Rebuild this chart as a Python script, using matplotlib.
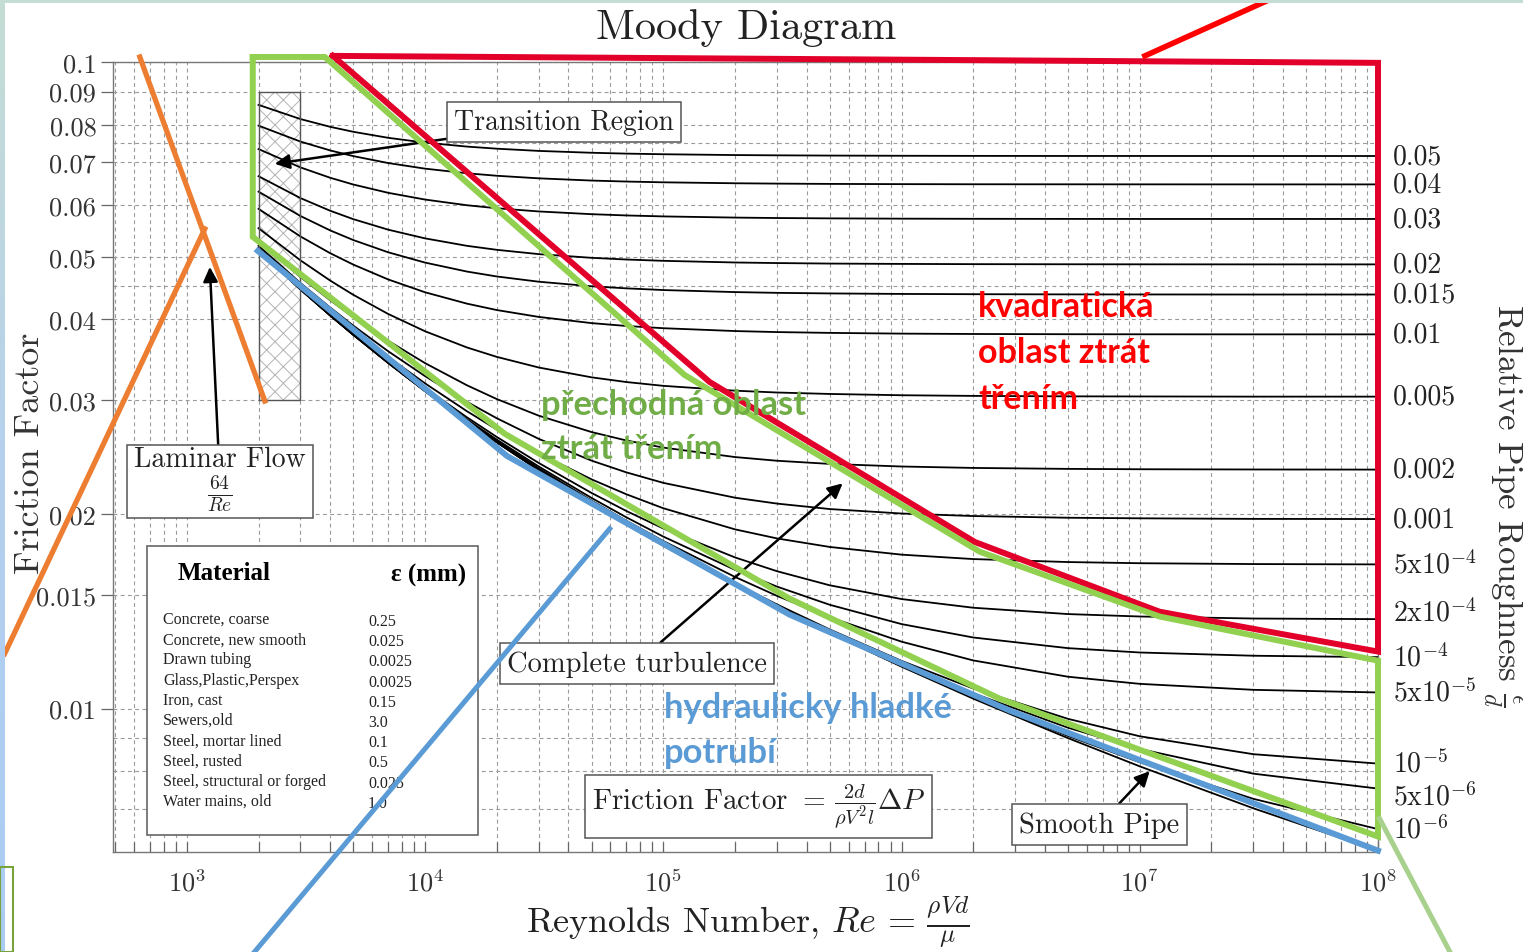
import numpy as np
import matplotlib
matplotlib.use('Agg')
import matplotlib.pyplot as plt
from matplotlib.patches import Rectangle
from matplotlib.colors import LinearSegmentedColormap
import matplotlib.transforms as mtransforms
from matplotlib.ticker import FixedLocator, NullFormatter, LogLocator

W, H = 1523, 953
plt.rcParams['mathtext.fontset'] = 'cm'
plt.rcParams['axes.unicode_minus'] = False
plt.rcParams['axes.formatter.use_mathtext'] = True
plt.rcParams['font.family'] = 'cmr10'
plt.rcParams['hatch.linewidth'] = 0.7

# ---------------- data ----------------
re_pts = [2e3, 3e3, 4e3, 5e3, 7e3, 1e4, 1.5e4, 2e4, 3e4, 5e4, 7e4, 1e5, 2e5, 3e5,
          5e5, 1e6, 2e6, 5e6, 1e7, 3e7, 1e8]

rough_labels = ['0.05', '0.04', '0.03', '0.02', '0.015', '0.01', '0.005', '0.002', '0.001',
                r'5x10$^{-4}$', r'2x10$^{-4}$', r'$10^{-4}$', r'5x10$^{-5}$',
                r'$10^{-5}$', r'5x10$^{-6}$', r'$10^{-6}$']

f_005 = [0.08584, 0.08161, 0.07938, 0.07799, 0.07634, 0.07504, 0.07399, 0.07344, 0.07286, 0.07238, 0.07216,
         0.07200, 0.07179, 0.07172, 0.07166, 0.07161, 0.07158, 0.07156, 0.07156, 0.07155, 0.07155]
f_004 = [0.07972, 0.07532, 0.07298, 0.07152, 0.06978, 0.06840, 0.06728, 0.06669, 0.06608, 0.06556, 0.06533,
         0.06515, 0.06493, 0.06485, 0.06478, 0.06473, 0.06470, 0.06469, 0.06468, 0.06467, 0.06467]
f_003 = [0.07334, 0.06870, 0.06621, 0.06464, 0.06276, 0.06127, 0.06004, 0.05940, 0.05873, 0.05816, 0.05790,
         0.05770, 0.05746, 0.05737, 0.05730, 0.05724, 0.05721, 0.05719, 0.05718, 0.05718, 0.05718]
f_002 = [0.06658, 0.06159, 0.05887, 0.05714, 0.05504, 0.05336, 0.05196, 0.05123, 0.05045, 0.04979, 0.04949,
         0.04926, 0.04897, 0.04887, 0.04878, 0.04872, 0.04868, 0.04866, 0.04865, 0.04864, 0.04864]
f_0015 = [0.06302, 0.05778, 0.05489, 0.05304, 0.05078, 0.04895, 0.04741, 0.04659, 0.04573, 0.04499, 0.04466,
          0.04439, 0.04407, 0.04395, 0.04386, 0.04378, 0.04374, 0.04371, 0.04370, 0.04369, 0.04369]
f_001 = [0.05928, 0.05372, 0.05061, 0.04860, 0.04610, 0.04404, 0.04229, 0.04134, 0.04034, 0.03946, 0.03906,
         0.03875, 0.03836, 0.03822, 0.03811, 0.03801, 0.03796, 0.03793, 0.03792, 0.03791, 0.03791]
f_0005 = [0.05533, 0.04934, 0.04591, 0.04364, 0.04077, 0.03833, 0.03618, 0.03499, 0.03369, 0.03253, 0.03199,
          0.03156, 0.03102, 0.03082, 0.03066, 0.03052, 0.03045, 0.03040, 0.03039, 0.03037, 0.03037]
f_0002 = [0.05283, 0.04650, 0.04280, 0.04030, 0.03706, 0.03422, 0.03162, 0.03011, 0.02838, 0.02677, 0.02598,
          0.02533, 0.02449, 0.02417, 0.02390, 0.02368, 0.02356, 0.02348, 0.02345, 0.02343, 0.02342]
f_0001 = [0.05197, 0.04551, 0.04170, 0.03910, 0.03570, 0.03267, 0.02981, 0.02812, 0.02613, 0.02418, 0.02319,
          0.02234, 0.02119, 0.02075, 0.02035, 0.02003, 0.01985, 0.01973, 0.01969, 0.01965, 0.01964]
f_5e4 = [0.05153, 0.04500, 0.04113, 0.03848, 0.03499, 0.03184, 0.02883, 0.02702, 0.02483, 0.02262, 0.02145,
         0.02041, 0.01893, 0.01833, 0.01778, 0.01730, 0.01703, 0.01685, 0.01678, 0.01673, 0.01671]
f_2e4 = [0.05127, 0.04470, 0.04078, 0.03810, 0.03455, 0.03132, 0.02821, 0.02631, 0.02398, 0.02155, 0.02021,
         0.01899, 0.01713, 0.01631, 0.01551, 0.01477, 0.01432, 0.01400, 0.01388, 0.01378, 0.01375]
f_1e4 = [0.05118, 0.04459, 0.04067, 0.03797, 0.03440, 0.03115, 0.02800, 0.02606, 0.02368, 0.02117, 0.01976,
         0.01845, 0.01639, 0.01544, 0.01447, 0.01351, 0.01288, 0.01240, 0.01221, 0.01207, 0.01201]
f_5e5 = [0.05114, 0.04454, 0.04061, 0.03791, 0.03433, 0.03106, 0.02789, 0.02594, 0.02353, 0.02097, 0.01952,
         0.01816, 0.01598, 0.01494, 0.01384, 0.01269, 0.01187, 0.01120, 0.01092, 0.01069, 0.01059]
f_1e5 = [0.05110, 0.04450, 0.04056, 0.03786, 0.03427, 0.03099, 0.02781, 0.02584, 0.02340, 0.02080, 0.01932,
         0.01792, 0.01562, 0.01449, 0.01325, 0.01185, 0.01074, 0.00964, 0.00906, 0.00850, 0.00822]
f_5e6 = [0.05110, 0.04450, 0.04056, 0.03785, 0.03426, 0.03098, 0.02780, 0.02583, 0.02339, 0.02078, 0.01930,
         0.01789, 0.01558, 0.01443, 0.01317, 0.01173, 0.01056, 0.00934, 0.00866, 0.00793, 0.00752]
f_1e6 = [0.05109, 0.04449, 0.04055, 0.03785, 0.03425, 0.03097, 0.02779, 0.02582, 0.02338, 0.02076, 0.01928,
         0.01787, 0.01554, 0.01439, 0.01311, 0.01163, 0.01040, 0.00907, 0.00826, 0.00725, 0.00651]
f_smooth = [0.05109, 0.04449, 0.04055, 0.03785, 0.03425, 0.03097, 0.02779, 0.02581, 0.02337, 0.02076, 0.01927,
            0.01786, 0.01553, 0.01437, 0.01309, 0.01161, 0.01036, 0.00900, 0.00814, 0.00701, 0.00603]

curves = [f_005, f_004, f_003, f_002, f_0015, f_001, f_0005, f_0002, f_0001,
          f_5e4, f_2e4, f_1e4, f_5e5, f_1e5, f_5e6, f_1e6]

lam_re = [640, 2133]
lam_f = [0.1, 0.03]

transition_re = [2000, 3000]
transition_f = [0.03, 0.09]

# hand-drawn overlay annotations, in (Re, f)
red_re = [4100, 156500, 2.03e6, 1.21e7, 1e8, 1e8, 4100]
red_f = [0.1022, 0.0320, 0.0181, 0.01412, 0.01225, 0.0997, 0.1022]
red_ptr_re = [1.05e7, 3.7e7]
red_ptr_f = [0.1022, 0.126]
green_re = [1892, 3795, 122900, 2.13e6, 1.21e7, 1e8, 1e8, 2.58e6, 339200, 21600, 1892, 1892]
green_f = [0.1018, 0.1018, 0.0328, 0.01748, 0.01388, 0.01186, 0.00634, 0.01036, 0.01479, 0.02661,
           0.05364, 0.1018]
green_ptr_re = [1.015e8, 2.0e8]
green_ptr_f = [0.00676, 0.00421]
blue_re = [1987, 22030, 339200, 2.84e6, 1e8]
blue_f = [0.05103, 0.0246, 0.01397, 0.00993, 0.00603]
blue_ptr_re = [59570, 1930]
blue_ptr_f = [0.01897, 0.00421]
orange_a_re = [635, 2125]
orange_a_f = [0.1018, 0.0299]
orange_b_re = [172, 1190]
orange_b_f = [0.01216, 0.0552]

materials = ['Concrete, coarse', 'Concrete, new smooth', 'Drawn tubing', 'Glass,Plastic,Perspex',
             'Iron, cast', 'Sewers,old', 'Steel, mortar lined', 'Steel, rusted',
             'Steel, structural or forged', 'Water mains, old']
material_eps = ['0.25', '0.025', '0.0025', '0.0025', '0.15', '3.0', '0.1', '0.5', '0.025', '1.0']

yticks = [0.01, 0.015, 0.02, 0.03, 0.04, 0.05, 0.06, 0.07, 0.08, 0.09, 0.1]
yminor = [0.007, 0.008, 0.009, 0.045, 0.075]
xticks = [1e3, 1e4, 1e5, 1e6, 1e7, 1e8]


# ---------------- drawing ----------------
def fx(x):
    return x / W


def fy(y):
    return 1 - y / H


fig = plt.figure(figsize=(W / 100, H / 100), dpi=100)
ax = fig.add_axes([fx(113), fy(853), (1378 - 113) / W, (853 - 63) / H])
ax.set_xscale('log')
ax.set_yscale('log')
ax.set_xlim(490, 1e8)
ax.set_ylim(0.006, 0.1)

ax.yaxis.set_major_locator(FixedLocator(yticks))
ax.yaxis.set_minor_locator(FixedLocator(yminor))
ax.yaxis.set_minor_formatter(NullFormatter())
ax.set_yticklabels([f'{v:g}' for v in yticks])
ax.xaxis.set_major_locator(FixedLocator(xticks))
ax.xaxis.set_minor_locator(LogLocator(base=10, subs=np.arange(2, 10), numticks=30))
ax.xaxis.set_minor_formatter(NullFormatter())
ax.set_xticklabels([r'$10^{%d}$' % round(np.log10(v)) for v in xticks])
ax.tick_params(axis='y', which='major', direction='out', length=9, width=0.9, color='#666',
               labelsize=19, labelcolor='#333', pad=3)
ax.tick_params(axis='y', which='minor', length=0)
ax.tick_params(axis='x', which='both', direction='in', length=7, width=0.9, color='#666',
               labelsize=19, labelcolor='#333', pad=12)
ax.grid(which='both', color='#9a9a9a', ls=(0, (3.5, 3)), lw=0.8)
for s in ax.spines.values():
    s.set_color('#777')
    s.set_linewidth(1.0)

for c in curves:
    ax.plot(re_pts, c, color='black', lw=1.3, zorder=3)
ax.plot(re_pts, f_smooth, color='black', lw=1.3, zorder=3)
ax.plot(lam_re, lam_f, color='black', lw=1.3, zorder=3)

bt = mtransforms.blended_transform_factory(ax.transAxes, ax.transData)
label_nudge_px = {r'2x10$^{-4}$': -7, r'5x10$^{-6}$': 8}
for c, lab in zip(curves, rough_labels):
    tr = bt + mtransforms.ScaledTranslation(0, -label_nudge_px.get(lab, 0) / 100, fig.dpi_scale_trans)
    ax.text(1.012, c[-1], lab, transform=tr, va='center', ha='left', fontsize=20, color='#222')

tw = transition_re[1] - transition_re[0]
th = transition_f[1] - transition_f[0]
ax.add_patch(Rectangle((transition_re[0], transition_f[0]), tw, th, fc='white', ec='#b3b3b3', lw=0,
                       hatch='xx', zorder=2))
ax.add_patch(Rectangle((transition_re[0], transition_f[0]), tw, th, fc='none', ec='#555555', lw=1.0, zorder=3))

box = dict(boxstyle='square,pad=0.25', fc='white', ec='#555555', lw=1.1)
arr = dict(arrowstyle='-|>', color='black', lw=1.8, mutation_scale=22, shrinkA=0, shrinkB=0)
ax.annotate('Transition Region', xy=(2340, 0.0696), xytext=(38200, 0.0808), fontsize=20,
            ha='center', va='center', bbox=box, arrowprops=arr, zorder=8, color='#222')
ax.annotate('Laminar Flow\n' + r'$\frac{64}{Re}$', xy=(1249, 0.0482), xytext=(1375, 0.0227), fontsize=20,
            ha='center', va='center', bbox=box, arrowprops=arr, zorder=8, color='#222', linespacing=1.0)
ax.annotate('Complete turbulence', xy=(566000, 0.0223), xytext=(77300, 0.01175), fontsize=20.5,
            ha='center', va='center', bbox=box, arrowprops=arr, zorder=8, color='#222')
ax.annotate('Smooth Pipe', xy=(1.10e7, 0.0080), xytext=(6.78e6, 0.00662), fontsize=20.5,
            ha='center', va='center', bbox=box, arrowprops=arr, zorder=8, color='#222')
ax.text(251000, 0.00706, r'Friction Factor $=\,\frac{2d}{\rho V^{2} l}\Delta P$', fontsize=21,
        ha='center', va='center', bbox=box, zorder=8, color='#222')

# material table
ax.add_patch(Rectangle((fx(147), fy(836)), (478 - 147) / W, (836 - 547) / H, transform=fig.transFigure,
                       fc='white', ec='#666666', lw=1.2, zorder=6, clip_on=False))
ax.text(fx(178), fy(573), 'Material', transform=fig.transFigure, fontsize=18, fontweight='bold',
        family='Liberation Serif', va='center', ha='left', zorder=7)
ax.text(fx(466), fy(575), 'ε (mm)', transform=fig.transFigure, fontsize=18, fontweight='bold',
        family='Liberation Serif', va='center', ha='right', zorder=7)
for i, (m, e) in enumerate(zip(materials, material_eps)):
    yy = 620 + i * 20.2
    ax.text(fx(163), fy(yy), m, transform=fig.transFigure, fontsize=11.5, family='Liberation Serif',
            va='center', ha='left', zorder=7, color='#222')
    ax.text(fx(368), fy(yy + 2), e, transform=fig.transFigure, fontsize=11.5, family='Liberation Serif',
            va='center', ha='left', zorder=7, color='#222')

# overlays
ax.plot(red_re, red_f, color='#E2002A', lw=4.3, zorder=10, clip_on=False, solid_joinstyle='miter')
ax.plot(red_ptr_re, red_ptr_f, color='#FF0000', lw=4.0, zorder=10, clip_on=False)
ax.plot(green_re, green_f, color='#92D050', lw=4.3, zorder=10, clip_on=False, solid_joinstyle='miter')
ax.plot(green_ptr_re, green_ptr_f, color='#A9D18E', lw=3.6, zorder=10, clip_on=False)
ax.plot(blue_re, blue_f, color='#5B9BD5', lw=4.3, zorder=10, clip_on=False)
ax.plot(blue_ptr_re, blue_ptr_f, color='#5B9BD5', lw=3.6, zorder=10, clip_on=False)
ax.plot(orange_a_re, orange_a_f, color='#ED7D31', lw=3.8, zorder=10, clip_on=False)
ax.plot(orange_b_re, orange_b_f, color='#ED7D31', lw=3.8, zorder=10, clip_on=False)

ax.text(fx(978), fy(353), 'kvadratická\noblast ztrát\ntřením', transform=fig.transFigure, fontsize=24.5,
        fontweight='bold', family='Lato', color='#FF0000', va='center', ha='left', linespacing=1.55, zorder=11)
ax.text(fx(541), fy(427), 'přechodná oblast\nztrát třením', transform=fig.transFigure, fontsize=24.8,
        fontweight='bold', family='Lato', color='#70AD47', va='center', ha='left', linespacing=1.45, zorder=11)
ax.text(fx(664), fy(731), 'hydraulicky hladké\npotrubí', transform=fig.transFigure, fontsize=24.8,
        fontweight='bold', family='Lato', color='#5B9BD5', va='center', ha='left', linespacing=1.5, zorder=11)

# labels
fig.text(fx(746), fy(28), 'Moody Diagram', fontsize=30.5, ha='center', va='center', color='#222')
fig.text(fx(30), fy(453), 'Friction Factor', fontsize=26, rotation=90, ha='center', va='center', color='#333')
fig.text(fx(748), fy(922), r'Reynolds Number, $Re\,=\,\frac{\rho V d}{\mu}$', fontsize=26,
         ha='center', va='center', color='#222')
fig.text(fx(1503), fy(505), r'Relative Pipe Roughness $\frac{\epsilon}{d}$', fontsize=25, rotation=-90,
         ha='center', va='center', color='#333')

# slide frame
fig.add_artist(Rectangle((0, fy(4)), 1, 4 / H, transform=fig.transFigure, fc='#C5DDD3', ec='none', zorder=20))
gax = fig.add_axes([0, 0, 5 / W, fy(4)])
grad = np.linspace(0, 1, 256)[:, None]
cmap = LinearSegmentedColormap.from_list('g', ['#C5DDD4', '#B5D0EE', '#AACCF4'])
gax.imshow(grad, aspect='auto', cmap=cmap)
gax.set_axis_off()
fig.add_artist(Rectangle((0, 0), fx(13), (953 - 868) / H, transform=fig.transFigure, fc='none',
                         ec='#77A33C', lw=1.5, zorder=20))

plt.savefig('out.png', dpi=100)
